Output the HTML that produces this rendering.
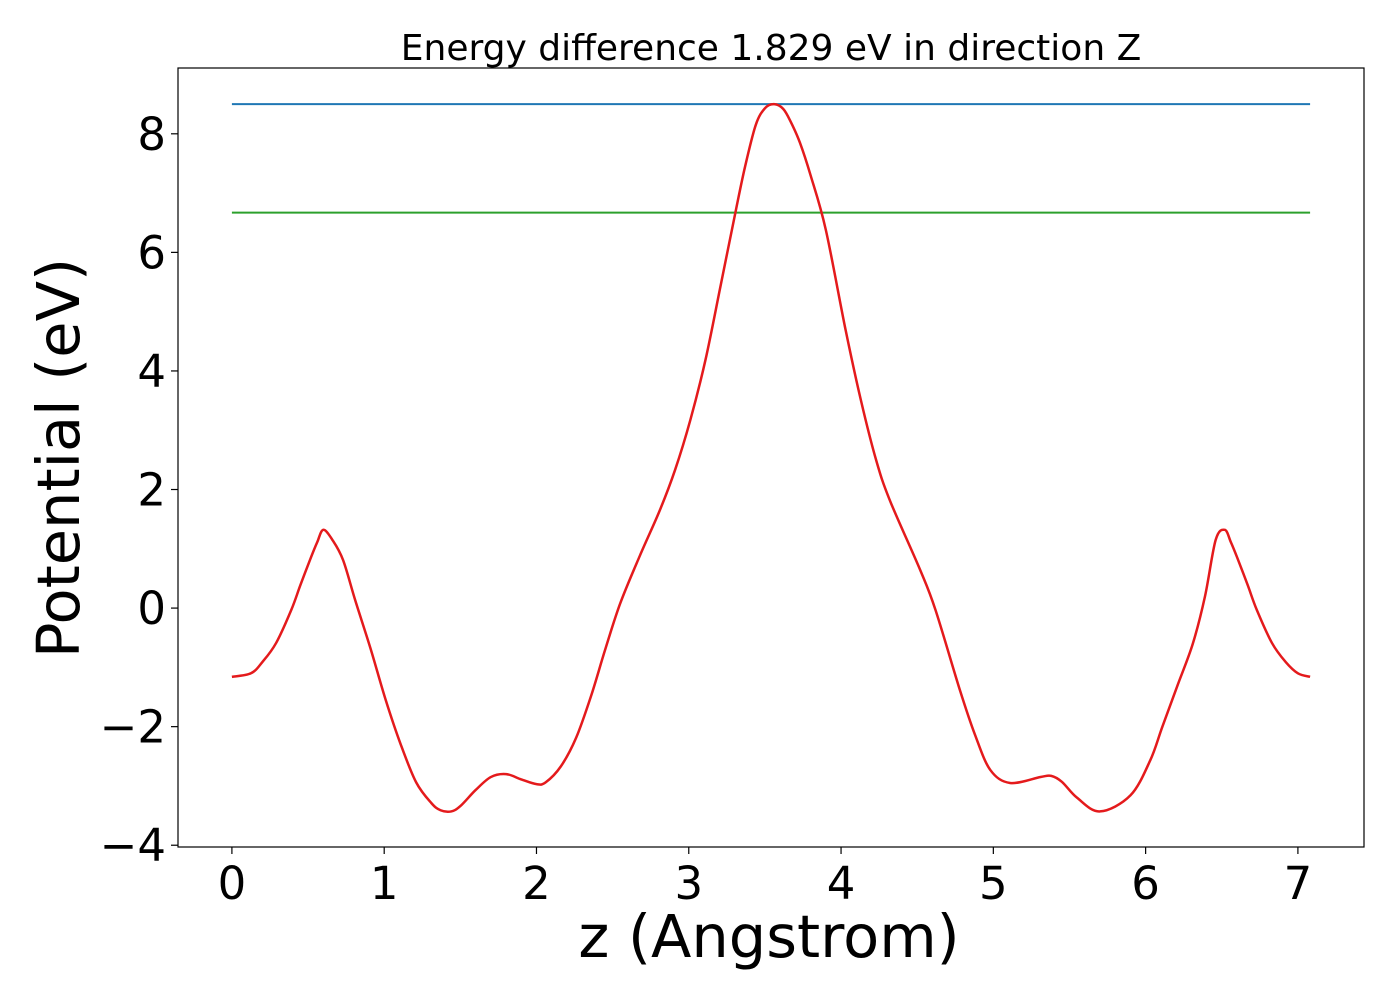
<!DOCTYPE html>
<html><head><meta charset="utf-8"><style>
body{margin:0;background:#fff}
svg{display:block;font-family:"DejaVu Sans","Liberation Sans",sans-serif}
</style></head><body>
<svg id="chart" width="1400" height="1000">
<rect x="0" y="0" width="1400" height="1000" fill="#fff"/>
<text x="771" y="60" font-size="36" text-anchor="middle">Energy difference 1.829 eV in direction Z</text>
<g id="ticks"></g>
<g id="lines"></g>
<rect x="178" y="68" width="1186" height="779" fill="none" stroke="#000" stroke-width="1.2"/>
<text x="769" y="957" font-size="59" text-anchor="middle">z (Angstrom)</text>
<text transform="translate(79,458) rotate(-90)" font-size="59" text-anchor="middle">Potential (eV)</text>
</svg>
<script>
const xTicks=[0,1,2,3,4,5,6,7];
const yTicks=[-4,-2,0,2,4,6,8];
const zVals=[0,0.125,0.2,0.29,0.39,0.45,0.52,0.56,0.6,0.66,0.73,0.81,0.91,1.01,1.11,1.21,1.31,1.37,1.44,1.5,1.6,1.7,1.8,1.9,2.0,2.06,2.16,2.26,2.36,2.45,2.55,2.68,2.81,2.91,3.01,3.11,3.21,3.31,3.37,3.44,3.5,3.56,3.62,3.67,3.73,3.8,3.9,4.03,4.13,4.23,4.32,4.52,4.62,4.78,4.88,4.98,5.11,5.31,5.38,5.45,5.55,5.7,5.9,6.03,6.11,6.21,6.31,6.39,6.46,6.52,6.56,6.6,6.67,6.73,6.83,6.92,7.0,7.08];
const potVals=[-1.16,-1.1,-0.91,-0.59,-0.03,0.39,0.86,1.11,1.32,1.15,0.81,0.13,-0.68,-1.55,-2.31,-2.94,-3.29,-3.41,-3.43,-3.34,-3.07,-2.85,-2.8,-2.89,-2.97,-2.94,-2.67,-2.19,-1.47,-0.71,0.08,0.89,1.65,2.33,3.17,4.19,5.45,6.72,7.45,8.15,8.43,8.5,8.42,8.2,7.85,7.3,6.38,4.69,3.51,2.5,1.82,0.64,-0.03,-1.38,-2.14,-2.73,-2.95,-2.85,-2.83,-2.93,-3.2,-3.43,-3.16,-2.57,-2.0,-1.3,-0.6,0.2,1.15,1.32,1.11,0.86,0.39,-0.03,-0.59,-0.91,-1.1,-1.16];
const blueLevel=8.50;
const greenLevel=6.671;
const xMin=-0.354,xMax=7.434,yMin=-4.03,yMax=9.11;
const L=178,R=1364,T=68,B=847;
const sx=v=>L+(v-xMin)/(xMax-xMin)*(R-L);
const sy=v=>B-(v-yMin)/(yMax-yMin)*(B-T);
const NS='http://www.w3.org/2000/svg';
const tg=document.getElementById('ticks'),lg=document.getElementById('lines');
function mk(tag,attrs,parent){const e=document.createElementNS(NS,tag);for(const k in attrs)e.setAttribute(k,attrs[k]);parent.appendChild(e);return e;}
xTicks.forEach(t=>{
  const l=mk('line',{x1:sx(t),x2:sx(t),y1:B,y2:B+7,stroke:'#000','stroke-width':1.2},tg);
  
  
  const tx=mk('text',{x:sx(t),y:B+52,'font-size':45,'text-anchor':'middle'},tg);
  tx.textContent=String(t);
  
  
});
yTicks.forEach(t=>{
  const l=mk('line',{x1:L-7,x2:L,y1:sy(t),y2:sy(t),stroke:'#000','stroke-width':1.2},tg);
  
  
  const tx=mk('text',{x:L-12,y:sy(t)+16,'font-size':45,'text-anchor':'end'},tg);
  tx.textContent=t<0?'\u2212'+Math.abs(t):String(t);
  
  
});
const z0=zVals[0],z1=zVals[zVals.length-1];
const bl=mk('line',{x1:sx(z0),x2:sx(z1),y1:sy(blueLevel),y2:sy(blueLevel),stroke:'#1f77b4','stroke-width':2},lg);


const gl=mk('line',{x1:sx(z0),x2:sx(z1),y1:sy(greenLevel),y2:sy(greenLevel),stroke:'#2ca02c','stroke-width':2},lg);


const P=zVals.map((z,i)=>[sx(z),sy(potVals[i])]);
let d='M'+P[0][0]+','+P[0][1];
for(let i=0;i<P.length-1;i++){
  const p0=P[Math.max(0,i-1)],p1=P[i],p2=P[i+1],p3=P[Math.min(P.length-1,i+2)];
  const c1=[p1[0]+(p2[0]-p0[0])/6,p1[1]+(p2[1]-p0[1])/6];
  const c2=[p2[0]-(p3[0]-p1[0])/6,p2[1]-(p3[1]-p1[1])/6];
  d+=' C'+c1[0]+','+c1[1]+' '+c2[0]+','+c2[1]+' '+p2[0]+','+p2[1];
}
const pc=mk('path',{d:d,fill:'none',stroke:'#e41a1c','stroke-width':2.5},lg);


</script>
</body></html>
